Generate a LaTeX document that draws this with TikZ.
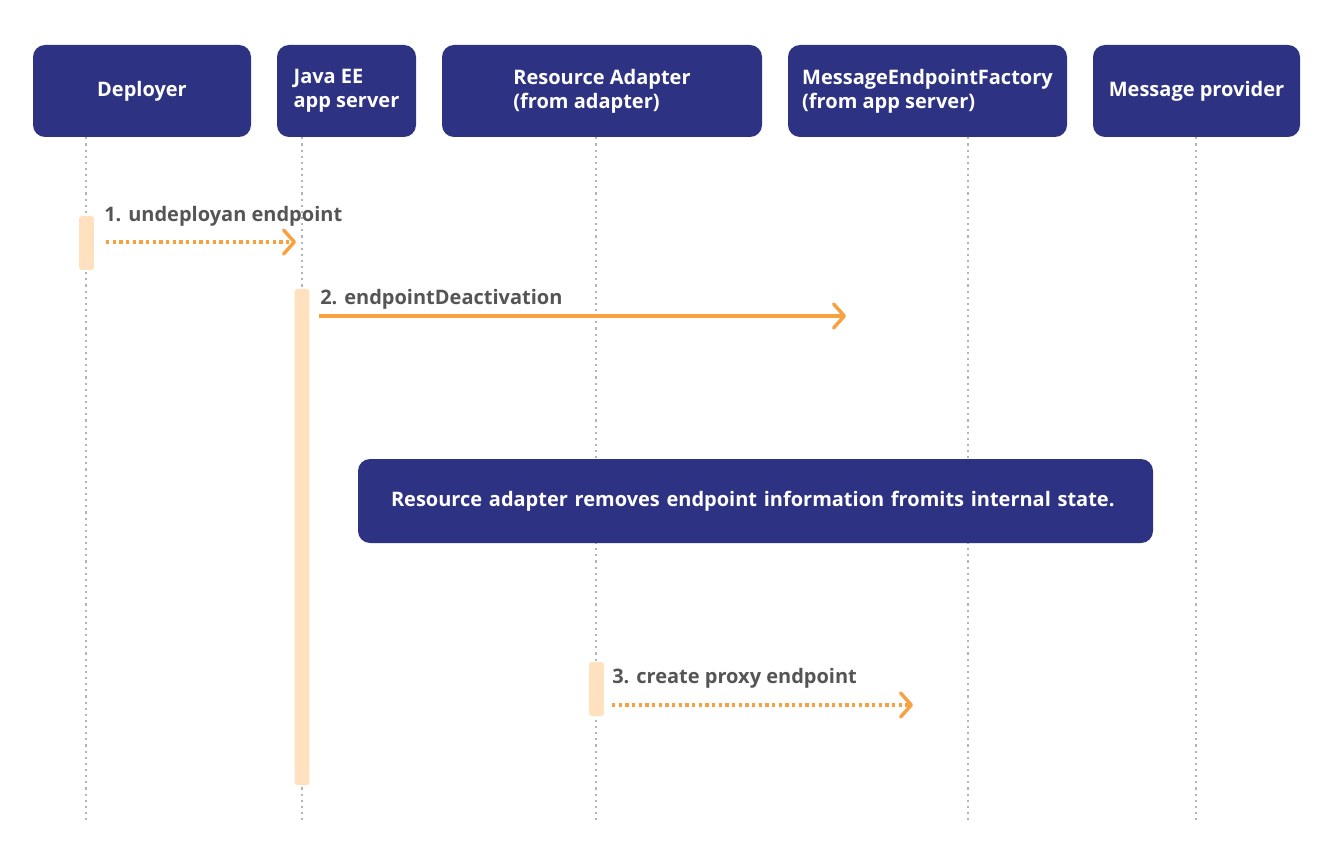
\documentclass[tikz,border=0pt]{standalone}
\usepackage{fontspec}
\setmainfont{Open Sans}
\usetikzlibrary{arrows.meta}
\definecolor{boxblue}{HTML}{2E3283}
\definecolor{msgorange}{HTML}{F7A140}
\definecolor{barpeach}{HTML}{FFE0BF}
\definecolor{labelgrey}{HTML}{555555}
\definecolor{linegrey}{HTML}{B4B4B4}
\begin{document}
\begin{tikzpicture}[x=0.75pt,y=-0.75pt]
      \tikzstyle{actor}=[rectangle, rounded corners=9pt, fill=boxblue, text=white, align=left,
        font=\bfseries\fontsize{15}{18}\selectfont, minimum height=69pt, inner sep=0pt]
      \tikzstyle{note}=[actor, minimum height=63pt, text width=546.75pt, inner xsep=24.75pt]
      \tikzstyle{lifeline}=[draw=linegrey, line width=1.6pt, dash pattern=on 1.6pt off 3pt]
      \tikzstyle{activation}=[rectangle, fill=barpeach, rounded corners=2pt, minimum width=11pt, inner sep=0pt]
      \tikzstyle{call}=[draw=msgorange, line width=2.6pt, -{Straight Barb[length=8pt,width=18pt,round]}]
      \tikzstyle{reply}=[call, dash pattern=on 2.4pt off 2.6pt]
      \tikzstyle{msglabel}=[anchor=base west, inner sep=0pt, text=labelgrey, font=\bfseries\fontsize{15}{18}\selectfont]
      \useasboundingbox[fill=white] (0,0) rectangle (1321,859);
      % participants
      \node[actor, minimum width=163.5pt]  (dep) at (142,91)    {Deployer};
      \node[actor, minimum width=104.25pt] (srv) at (346.5,91)  {Java EE\\app server};
      \node[actor, minimum width=240pt]    (ra)  at (602,91)    {Resource Adapter\\(from adapter)};
      \node[actor, minimum width=209.25pt] (mef) at (927.5,91)  {MessageEndpointFactory\\(from app server)};
      \node[actor, minimum width=155.25pt] (mp)  at (1196.5,91) {Message provider};
      % lifelines
      \coordinate (dep end) at (86,822);
      \coordinate (srv end) at (302,822);
      \coordinate (ra end)  at (596,822);
      \coordinate (mef end) at (968,822);
      \coordinate (mp end)  at (1196,822);
      \foreach \p in {dep,srv,ra,mef,mp}
        \draw[lifeline] (\p.south -| \p\space end) -- (\p\space end);
      % activations
      \node[activation, minimum height=40.5pt] (dep act) at (86.5,243) {};
      \node[activation, minimum height=372pt]  (srv act) at (302,537)  {};
      \node[activation, minimum height=40.5pt] (ra act)  at (596.5,689) {};
      % messages
      \coordinate (m1 end) at (296,242);
      \coordinate (m2 end) at (846,316);
      \coordinate (m3 end) at (913,705);
      \draw[reply] ([xshift=9pt]dep act.east |- m1 end) -- (m1 end);
      \draw[call]  ([xshift=7pt]srv act.east |- m2 end) -- (m2 end);
      \draw[reply] ([xshift=6pt]ra act.east |- m3 end) -- (m3 end);
      \node[msglabel] (m1) at (104,222) {1. undeployan endpoint};
      \node[msglabel] (m2) at (320,305) {2. endpointDeactivation};
      \node[msglabel] (m3) at (612,683) {3. create proxy endpoint};
      % note
      \node[note] (state) at (755.5,501) {Resource adapter removes endpoint information fromits internal state.};
\end{tikzpicture}
\end{document}
